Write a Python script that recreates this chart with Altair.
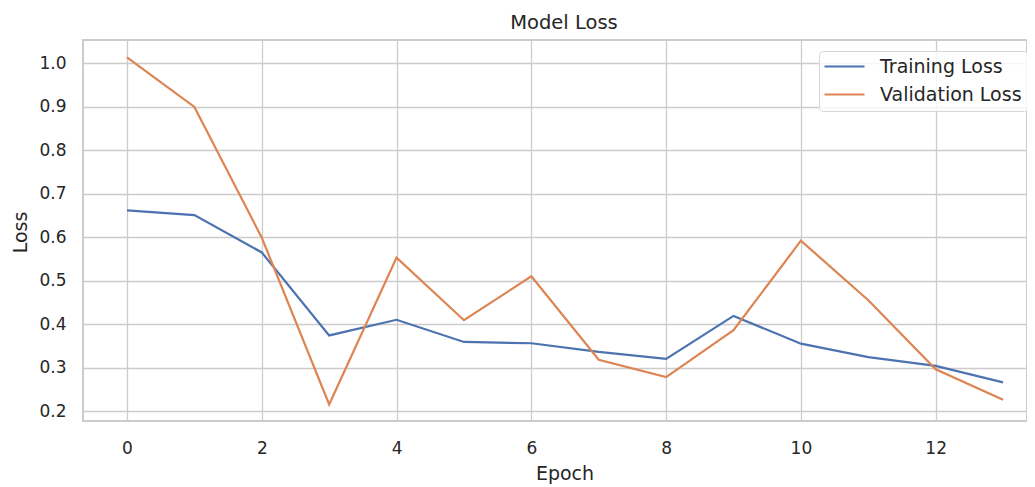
import altair as alt
import pandas as pd

epochs = list(range(14))
training_loss = [0.662, 0.651, 0.565, 0.374, 0.410, 0.359, 0.356, 0.336, 0.320, 0.419, 0.355, 0.324, 0.304, 0.266]
validation_loss = [1.014, 0.900, 0.599, 0.215, 0.553, 0.409, 0.510, 0.318, 0.278, 0.386, 0.592, 0.455, 0.296, 0.226]
series_names = ["Training Loss", "Validation Loss"]
series_colors = ["#4c72b0", "#dd8452"]
x_ticks = [0, 2, 4, 6, 8, 10, 12]
y_ticks = [0.2, 0.3, 0.4, 0.5, 0.6, 0.7, 0.8, 0.9, 1.0]

df = pd.DataFrame({
    "Epoch": epochs + epochs,
    "Loss": training_loss + validation_loss,
    "Series": [series_names[0]] * len(epochs) + [series_names[1]] * len(epochs),
})

FONT = "DejaVu Sans"
TXT = "#262626"

chart = alt.Chart(df).mark_line(strokeWidth=2.2, clip=True).encode(
    x=alt.X("Epoch:Q",
            scale=alt.Scale(domain=[-0.653, 13.355], nice=False, zero=False),
            axis=alt.Axis(values=x_ticks, format="d", title="Epoch",
                          labelPadding=19, titleX=481.5, titleY=58,
                          titleAlign="center", titleBaseline="alphabetic")),
    y=alt.Y("Loss:Q",
            scale=alt.Scale(domain=[0.177, 1.054], nice=False, zero=False),
            axis=alt.Axis(values=y_ticks, format=".1f", title="Loss",
                          labelPadding=17, titleX=-57, titleY=192,
                          titleAngle=-90, titleAlign="center",
                          titleBaseline="alphabetic")),
    color=alt.Color("Series:N",
                    scale=alt.Scale(domain=series_names, range=series_colors),
                    sort=series_names,
                    legend=alt.Legend(title=None, orient="none", legendX=736, legendY=11,
                                      symbolType="M-2,0H6", symbolSize=100,
                                      symbolStrokeWidth=2.2,
                                      labelFont=FONT, labelFontSize=19, labelColor=TXT,
                                      labelOffset=36, padding=6, rowPadding=8,
                                      fillColor="rgba(255,255,255,0.8)",
                                      strokeColor="#d6d6d6", cornerRadius=4)),
).properties(
    width=944,
    height=381,
    title=alt.TitleParams("Model Loss", font=FONT, fontSize=19.5, fontWeight="normal",
                          color=TXT, anchor="middle", dx=9, dy=18, baseline="alphabetic",
                          offset=10, frame="group"),
    autosize=alt.AutoSizeParams(type="none"),
    padding={"left": 75, "top": 32, "right": 0, "bottom": 64},
).configure_view(
    stroke="#cccccc", strokeWidth=2
).configure_axis(
    grid=True, gridColor="#cccccc", gridWidth=1.3,
    domain=False, ticks=False, tickSize=0,
    labelFont=FONT, labelFontSize=17, labelColor=TXT,
    titleFont=FONT, titleFontSize=19, titleFontWeight="normal", titleColor=TXT,
)

chart.save("out.html", embed_options={"renderer": "svg", "actions": False})
